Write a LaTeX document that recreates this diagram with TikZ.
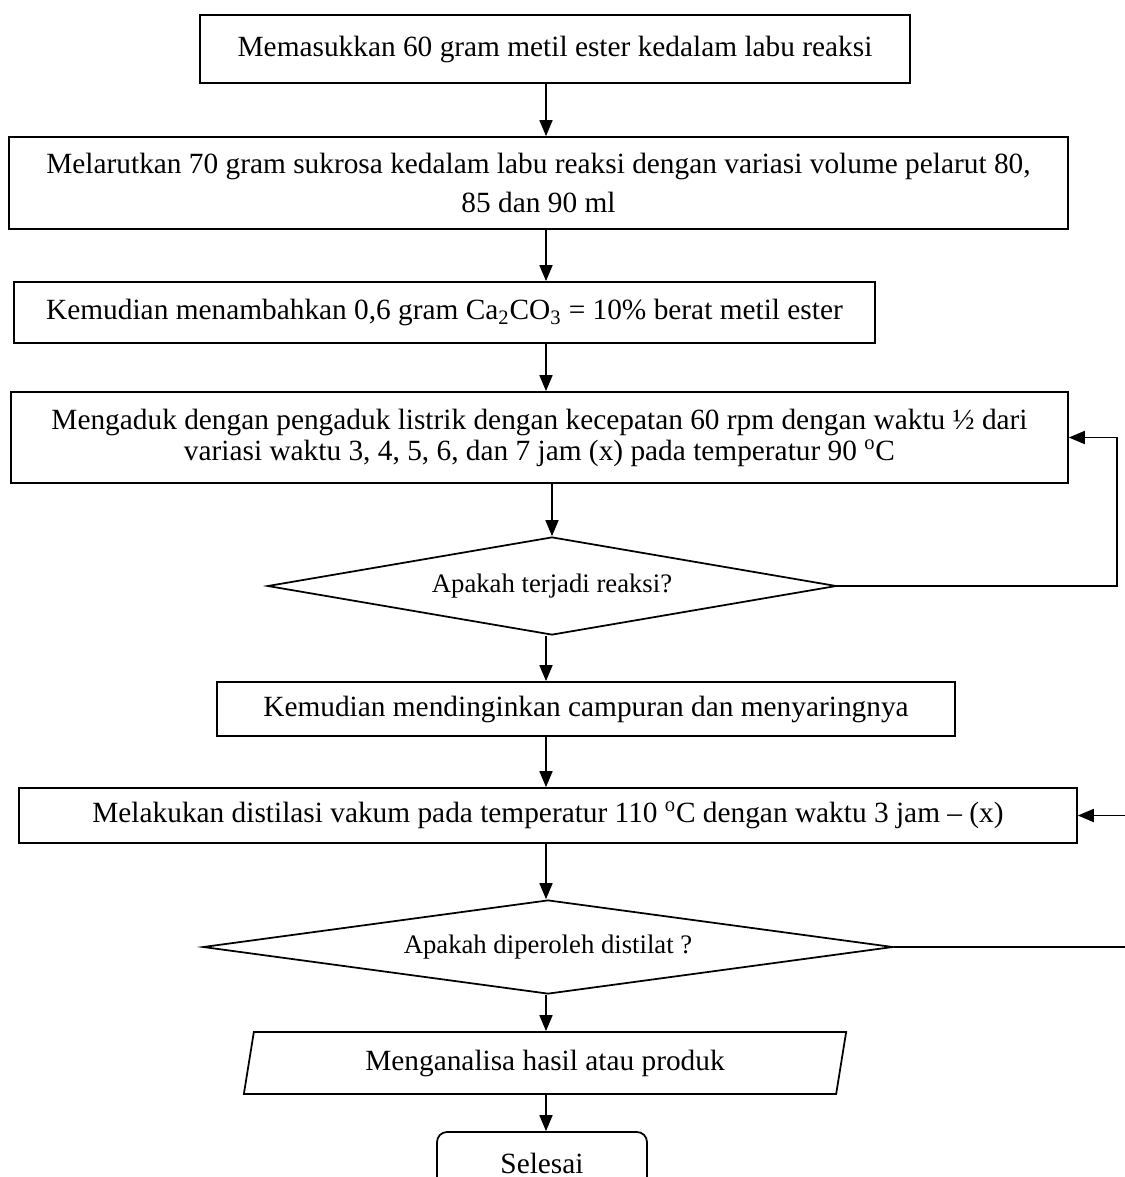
\documentclass[tikz,border=0pt]{standalone}
\usepackage{fontspec}
\setmainfont{Liberation Serif}
\usetikzlibrary{shapes.geometric,arrows.meta}

\begin{document}
\begin{tikzpicture}[x=0.02cm,y=-0.02cm,
  langkah/.style={draw,rectangle,line width=1pt,inner sep=0pt,align=center,font=\fontsize{16.7}{19}\selectfont},
  tanya/.style={draw,diamond,line width=1pt,inner sep=0pt,font=\fontsize{15.2}{17}\selectfont},
  panah/.style={-{Triangle[length=0.32cm,width=0.26cm]},line width=1pt}]
        \useasboundingbox (0,0) rectangle (1125,1177);
        \coordinate (tengah) at (546,0);
        \coordinate (kanan1) at (1117,0);
        \coordinate (kanan2) at (1128,0);
        \node[langkah,minimum width=14.2cm,minimum height=1.36cm] (b1) at (555,49) {Memasukkan 60 gram metil ester kedalam labu reaksi};
        \node[langkah,minimum width=21.18cm,minimum height=1.84cm,font=\fontsize{16.7}{22.7}\selectfont] (b2) at (538.5,183) {Melarutkan 70 gram sukrosa kedalam labu reaksi dengan variasi volume pelarut 80,\\85 dan 90 ml};
        \node[langkah,minimum width=17.22cm,minimum height=1.22cm] (b3) at (444.5,312.5) {Kemudian menambahkan 0,6 gram Ca\textsubscript{2}CO\textsubscript{3} = 10\% berat metil ester};
        \node[langkah,minimum width=21.14cm,minimum height=1.82cm,font=\fontsize{16.7}{17.6}\selectfont] (b4) at (539.5,437.5) {Mengaduk dengan pengaduk listrik dengan kecepatan 60 rpm dengan waktu ½ dari\\variasi waktu 3, 4, 5, 6, dan 7 jam (x) pada temperatur 90 \textsuperscript{o}C};
        \node[tanya,aspect=5.8,minimum width=11.38cm,minimum height=1.96cm] (d1) at (552,586) {Apakah terjadi reaksi?};
        \node[langkah,minimum width=14.76cm,minimum height=1.08cm] (b5) at (586,709) {Kemudian mendinginkan campuran dan menyaringnya};
        \node[langkah,minimum width=21.16cm,minimum height=1.1cm] (b6) at (548,815.5) {Melakukan distilasi vakum pada temperatur 110 \textsuperscript{o}C dengan waktu 3 jam -- (x)};
        \node[tanya,aspect=7.3,minimum width=13.8cm,minimum height=1.88cm] (d2) at (548,947) {Apakah diperoleh distilat ?};
        \node[langkah,trapezium,trapezium left angle=77,trapezium right angle=103,trapezium stretches=true,minimum width=12.08cm,minimum height=1.24cm] (p1) at (545,1063) {Menganalisa hasil atau produk};
        \node[langkah,rounded corners=0.2cm,minimum width=4.2cm,minimum height=1.24cm] (s1) at (542,1163) {Selesai};
        \draw[panah] (b1.south -| tengah) -- (b2.north -| tengah);
        \draw[panah] (b2.south -| tengah) -- (b3.north -| tengah);
        \draw[panah] (b3.south -| tengah) -- (b4.north -| tengah);
        \draw[panah] (b4.south -| d1.north) -- (d1.north);
        \draw[panah] (d1.south -| tengah) -- (b5.north -| tengah);
        \draw[panah] (b5.south -| tengah) -- (b6.north -| tengah);
        \draw[panah] (b6.south -| tengah) -- (d2.north -| tengah);
        \draw[panah] (d2.south -| tengah) -- (p1.north -| tengah);
        \draw[panah] (p1.south -| tengah) -- (s1.north -| tengah);
        \draw[panah] (d1.east) -| (kanan1 |- b4.east) -- (b4.east);
        \draw[panah] (d2.east) -| (kanan2 |- b6.east) -- (b6.east);
      \end{tikzpicture}
\end{document}
